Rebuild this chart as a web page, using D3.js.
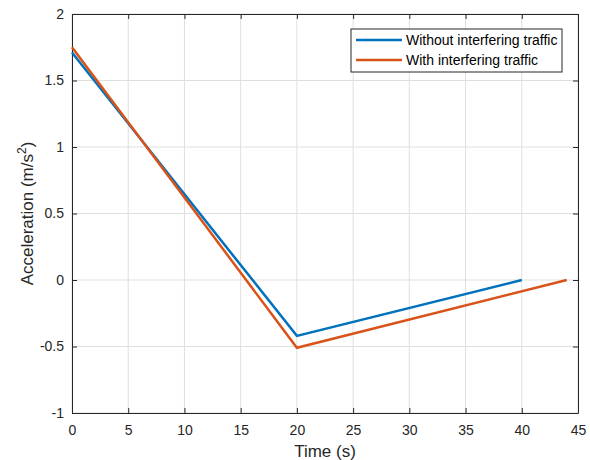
<!DOCTYPE html>
<html>
<head>
<meta charset="utf-8">
<script src="https://cdn.jsdelivr.net/npm/d3@7"></script>
<style>
body { margin: 0; background: #fff; }
svg { font-family: "Liberation Sans", Arial, sans-serif; }
</style>
</head>
<body>
<svg id="chart" width="590" height="460"></svg>
<script>
var seriesNames = ["Without interfering traffic", "With interfering traffic"]
var seriesColors = ["#0072BD", "#D95319"]
var timeWithout = [0, 20, 40]
var accWithout = [1.71, -0.42, 0]
var timeWith = [0, 20, 44]
var accWith = [1.75, -0.51, 0]
var xTicks = [0, 5, 10, 15, 20, 25, 30, 35, 40, 45]
var yTicks = [-1, -0.5, 0, 0.5, 1, 1.5, 2]

var svg = d3.select("#chart"),
    margin = { top: 14, right: 12, bottom: 47, left: 72 },
    width = +svg.attr("width") - margin.left - margin.right,
    height = +svg.attr("height") - margin.top - margin.bottom;

var x = d3.scaleLinear().domain([0, 45]).range([0, width]),
    y = d3.scaleLinear().domain([-1, 2]).range([height, 0]);

var g = svg.append("g")
    .attr("transform", "translate(" + margin.left + "," + margin.top + ")");

// grid
g.selectAll(".gx").data(xTicks).enter().append("line")
    .attr("x1", d => x(d)).attr("x2", d => x(d))
    .attr("y1", 0).attr("y2", height)
    .attr("stroke", "#dfdfdf").attr("stroke-width", 1);
g.selectAll(".gy").data(yTicks).enter().append("line")
    .attr("y1", d => y(d)).attr("y2", d => y(d))
    .attr("x1", 0).attr("x2", width)
    .attr("stroke", "#dfdfdf").attr("stroke-width", 1);

function styleAxis(sel) {
    sel.selectAll("path").attr("stroke", "#262626");
    sel.selectAll("line").attr("stroke", "#262626");
    sel.selectAll("text").attr("fill", "#262626").attr("font-size", "14px");
    sel.attr("font-family", null);
}

// matlab style: plain hyphen for minus
var fmt = d => String(d)

g.append("g")
    .attr("transform", "translate(0," + height + ")")
    .call(d3.axisBottom(x).tickValues(xTicks).tickSize(-5).tickSizeOuter(0).tickPadding(12).tickFormat(fmt))
    .call(styleAxis);
g.append("g")
    .call(d3.axisLeft(y).tickValues(yTicks).tickSize(-5).tickSizeOuter(0).tickPadding(8).tickFormat(fmt))
    .call(styleAxis);
g.append("g")
    .call(d3.axisTop(x).tickValues(xTicks).tickSize(-5).tickSizeOuter(0).tickFormat(""))
    .call(styleAxis);
g.append("g")
    .attr("transform", "translate(" + width + ",0)")
    .call(d3.axisRight(y).tickValues(yTicks).tickSize(-5).tickSizeOuter(0).tickFormat(""))
    .call(styleAxis);

// lines
var line = d3.line().x(d => x(d[0])).y(d => y(d[1]));
var series = [
    d3.zip(timeWithout, accWithout),
    d3.zip(timeWith, accWith)
];
series.forEach(function(s, i) {
    g.append("path")
        .datum(s)
        .attr("fill", "none")
        .attr("stroke", seriesColors[i])
        .attr("stroke-width", 2.5)
        .attr("d", line);
});

// labels
svg.append("text")
    .attr("text-anchor", "middle")
    .attr("x", margin.left + width / 2)
    .attr("y", 457)
    .attr("font-size", "17px")
    .attr("fill", "#262626")
    .text("Time (s)");

var yl = svg.append("text")
    .attr("text-anchor", "middle")
    .attr("transform", "translate(33," + (margin.top + height / 2) + ") rotate(-90)")
    .attr("font-size", "17px")
    .attr("fill", "#262626");
yl.append("tspan").text("Acceleration (m/s");
yl.append("tspan").attr("font-size", "12px").attr("dy", "-7").text("2");
yl.append("tspan").attr("dy", "7").text(")");

// legend
var leg = svg.append("g").attr("transform", "translate(351,29)");
leg.append("rect")
    .attr("width", 211).attr("height", 43)
    .attr("fill", "#fff").attr("stroke", "#262626").attr("stroke-width", 1);
seriesNames.forEach(function(name, i) {
    leg.append("line")
        .attr("x1", 5).attr("x2", 51)
        .attr("y1", 11 + i * 20).attr("y2", 11 + i * 20)
        .attr("stroke", seriesColors[i]).attr("stroke-width", 2.5);
    leg.append("text")
        .attr("x", 55).attr("y", 16 + i * 20)
        .attr("font-size", "14px")
        .attr("fill", "#000")
        .text(name);
});
</script>
</body>
</html>
